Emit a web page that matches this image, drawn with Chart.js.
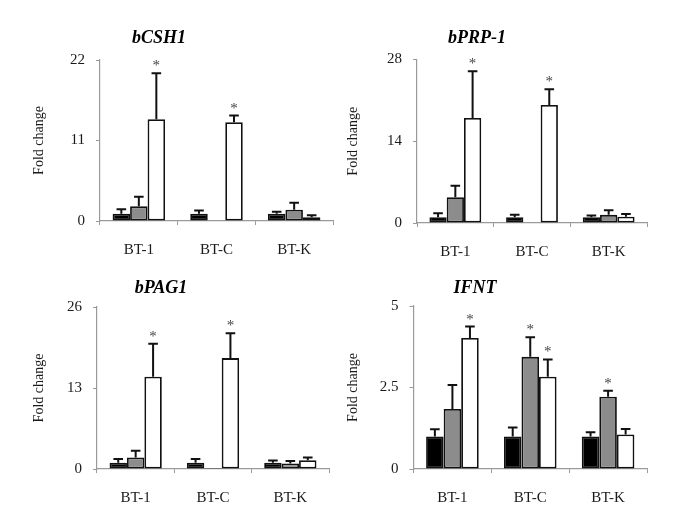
<!DOCTYPE html>
<html><head><meta charset="utf-8">
<script src="https://cdn.jsdelivr.net/npm/chart.js@4.4.0/dist/chart.umd.min.js"></script>
<style>
html,body{margin:0;padding:0;background:#fff;width:685px;height:532px;overflow:hidden}
canvas{position:absolute;left:0;top:0}
</style></head><body>
<canvas id="c1" width="685" height="532"></canvas>
<canvas id="c2" width="685" height="532"></canvas>
<canvas id="c3" width="685" height="532"></canvas>
<canvas id="c4" width="685" height="532"></canvas>
<script>
// ---------- data ----------
const categories = ['BT-1', 'BT-C', 'BT-K'];
const seriesNames = ['Group 1', 'Group 2', 'Group 3'];

const bCSH1_black = [1.0, 1.0, 1.0];
const bCSH1_gray  = [2.0, 0, 1.55];
const bCSH1_white = [13.9, 13.5, 0.5];
const bCSH1_blackErr = [0.6, 0.45, 0.25];
const bCSH1_grayErr  = [1.3, 0, 0.95];
const bCSH1_whiteErr = [6.3, 0.9, 0.28];
const bCSH1_grayStar  = [0, 0, 0];
const bCSH1_whiteStar = [1, 1, 0];
const bCSH1_ticks = [0, 11, 22];

const bPRP1_black = [1.0, 1.0, 1.0];
const bPRP1_gray  = [4.4, 0.1, 1.4];
const bPRP1_white = [18.0, 20.2, 1.08];
const bPRP1_blackErr = [0.65, 0.4, 0.3];
const bPRP1_grayErr  = [2.0, 0, 0.8];
const bPRP1_whiteErr = [8.0, 2.7, 0.45];
const bPRP1_grayStar  = [0, 0, 0];
const bPRP1_whiteStar = [1, 1, 0];
const bPRP1_ticks = [0, 14, 28];

const bPAG1_black = [1.0, 1.0, 1.0];
const bPAG1_gray  = [1.86, 0.15, 0.9];
const bPAG1_white = [14.8, 17.8, 1.4];
const bPAG1_blackErr = [0.6, 0.6, 0.35];
const bPAG1_grayErr  = [1.05, 0, 0.4];
const bPAG1_whiteErr = [5.3, 4.0, 0.45];
const bPAG1_grayStar  = [0, 0, 0];
const bPAG1_whiteStar = [1, 1, 0];
const bPAG1_ticks = [0, 13, 26];

const IFNT_black = [1.0, 1.0, 1.0];
const IFNT_gray  = [1.84, 3.44, 2.22];
const IFNT_white = [4.02, 2.83, 1.06];
const IFNT_blackErr = [0.22, 0.27, 0.13];
const IFNT_grayErr  = [0.74, 0.6, 0.18];
const IFNT_whiteErr = [0.35, 0.53, 0.17];
const IFNT_grayStar  = [0, 1, 1];
const IFNT_whiteStar = [1, 1, 0];
const IFNT_ticks = [0, 2.5, 5];

// ---------- styling / layout ----------
const FONT = '"Liberation Serif", "Times New Roman", serif';
Chart.defaults.font.family = FONT;
Chart.defaults.color = '#1a1a1a';
const AXIS = '#9a9a9a';
const FILLS = ['#000000', '#8c8c8c', '#ffffff'];

const annot = {
  id: 'annot',
  afterDatasetsDraw(chart, args, opts) {
    const ctx = chart.ctx, ys = chart.scales.y;
    ctx.save();
    chart.data.datasets.forEach((ds, i) => {
      const meta = chart.getDatasetMeta(i);
      meta.data.forEach((bar, j) => {
        const v = ds.data[j], e = ds.errors[j];
        const x = bar.x;
        const top = ys.getPixelForValue(v + e);
        if (e > 0) {
          ctx.strokeStyle = '#111'; ctx.lineWidth = 2;
          ctx.beginPath();
          ctx.moveTo(x, ys.getPixelForValue(v)); ctx.lineTo(x, top);
          ctx.moveTo(x - 4.8, top); ctx.lineTo(x + 4.8, top);
          ctx.stroke();
        }
        if (ds.stars[j]) {
          ctx.fillStyle = '#444';
          ctx.font = '15px ' + FONT;
          ctx.textAlign = 'center'; ctx.textBaseline = 'alphabetic';
          ctx.fillText('*', x, top - 3);
        }
      });
    });
    ctx.fillStyle = '#000';
    ctx.font = 'italic bold 18px ' + FONT;
    ctx.textAlign = 'center'; ctx.textBaseline = 'middle';
    ctx.fillText(opts.title, opts.tx, opts.ty);
    ctx.restore();
  }
};

function makePanel(id, title, vals, errs, stars, ticks, area, labelX, titlePos) {
  const W = 685, H = 532, HX = 50;
  const L = labelX - 8.4;
  const WY = area.left - L;
  new Chart(document.getElementById(id), {
    type: 'bar',
    data: {
      labels: categories,
      datasets: vals.map((d, k) => ({
        label: seriesNames[k], data: d, errors: errs[k], stars: stars[k],
        backgroundColor: FILLS[k], borderColor: '#111', borderWidth: 1.8,
        borderSkipped: false, categoryPercentage: 0.676, barPercentage: 1.0
      }))
    },
    options: {
      responsive: false, animation: false, events: [],
      layout: { padding: { left: L, top: area.top, right: W - area.right, bottom: H - area.bottom - HX } },
      plugins: { legend: { display: false }, tooltip: { enabled: false },
        annot: { title: title, tx: titlePos[0], ty: titlePos[1] } },
      scales: {
        x: {
          grid: { drawOnChartArea: false, drawTicks: true, tickLength: 4, color: AXIS, offset: true },
          border: { color: AXIS, width: 1.2 },
          ticks: { font: { size: 15 }, padding: 16, color: '#1a1a1a' },
          afterFit(s) { s.height = HX; }
        },
        y: {
          min: ticks[0], max: ticks[ticks.length - 1],
          grid: { drawOnChartArea: false, drawTicks: true, tickLength: 4, color: AXIS },
          border: { color: AXIS, width: 1.2 },
          ticks: { font: { size: 15 }, padding: 11, color: '#1a1a1a', callback: v => String(v) },
          afterBuildTicks(s) { s.ticks = ticks.map(v => ({ value: v })); },
          title: { display: true, text: 'Fold change', font: { size: 14 }, padding: 0, color: '#1a1a1a' },
          afterFit(s) { s.width = WY; }
        }
      }
    },
    plugins: [annot]
  });
}

makePanel('c1', 'bCSH1',
  [bCSH1_black, bCSH1_gray, bCSH1_white],
  [bCSH1_blackErr, bCSH1_grayErr, bCSH1_whiteErr],
  [[0,0,0], bCSH1_grayStar, bCSH1_whiteStar],
  bCSH1_ticks, { left: 100, top: 60, right: 333, bottom: 221 }, 39, [159, 38]);
makePanel('c2', 'bPRP-1',
  [bPRP1_black, bPRP1_gray, bPRP1_white],
  [bPRP1_blackErr, bPRP1_grayErr, bPRP1_whiteErr],
  [[0,0,0], bPRP1_grayStar, bPRP1_whiteStar],
  bPRP1_ticks, { left: 417, top: 59.5, right: 647, bottom: 223 }, 353, [477, 38]);
makePanel('c3', 'bPAG1',
  [bPAG1_black, bPAG1_gray, bPAG1_white],
  [bPAG1_blackErr, bPAG1_grayErr, bPAG1_whiteErr],
  [[0,0,0], bPAG1_grayStar, bPAG1_whiteStar],
  bPAG1_ticks, { left: 97, top: 307, right: 329, bottom: 469 }, 39, [161, 288]);
makePanel('c4', 'IFNT',
  [IFNT_black, IFNT_gray, IFNT_white],
  [IFNT_blackErr, IFNT_grayErr, IFNT_whiteErr],
  [[0,0,0], IFNT_grayStar, IFNT_whiteStar],
  IFNT_ticks, { left: 413.5, top: 306, right: 647, bottom: 469 }, 353, [475, 288]);
</script>
</body></html>
